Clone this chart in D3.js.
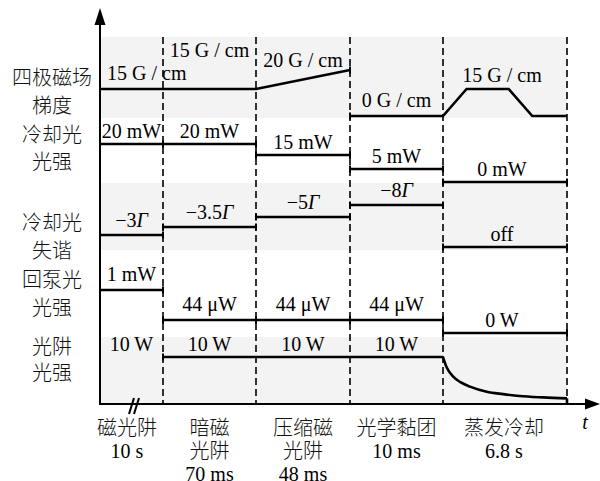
<!DOCTYPE html>
<html><head><meta charset="utf-8">
<script src="https://cdn.jsdelivr.net/npm/d3@7/dist/d3.min.js"></script>
<style>body{margin:0;background:#fff}</style>
</head><body><svg id="chart" width="600" height="481"></svg>
<script>
// Sequence phases (bottom axis)
const phaseLines = [["磁光阱"], ["暗磁", "光阱"], ["压缩磁", "光阱"], ["光学黏团"], ["蒸发冷却"]];
const phaseDurations = ["10 s", "70 ms", "48 ms", "10 ms", "6.8 s"];
// Control channels (left side)
const channelLines = [["四极磁场", "梯度"], ["冷却光", "光强"], ["冷却光", "失谐"], ["回泵光", "光强"], ["光阱", "光强"]];

// Quadrupole gradient (G/cm); time in phase units, null splits the trace
const gradientT = [0, 2, 3, null, 3, 4, 4.19, 4.53, 4.72, 5];
const gradientV = [15, 15, 20, null, 0, 0, 15, 15, 0, 0];
const gradientLabels = ["15 G / cm", "15 G / cm", "20 G / cm", "0 G / cm", "15 G / cm"];

// Cooling beam power (mW)
const coolPower = [20, 20, 15, 5, 0];
const coolLabels = ["20 mW", "20 mW", "15 mW", "5 mW", "0 mW"];

// Cooling beam detuning (units of Γ); null = beam off
const detuning = [-3, -3.5, -5, -8, null];
const detuningText = ["−3", "−3.5", "−5", "−8", "off"];

// Repump power (μW)
const repumpPower = [1000, 44, 44, 44, 0];
const repumpLabels = ["1 mW", "44 μW", "44 μW", "44 μW", "0 W"];

// Optical dipole trap power (W)
const trapPower = [10, 10, 10, 10];
const trapLabels = ["10 W", "10 W", "10 W", "10 W"];
const evapTime = [0, 0.2, 0.56, 0.93, 1.48, 2.4, 3.3, 4.2, 5.5, 6.8];   // s
const evapPower = [10, 7.8, 5.8, 4.7, 3.7, 2.6, 2.1, 1.7, 1.4, 1.2];    // W

// ---- layout ----
const svg = d3.select("#chart");
const serif = "'Liberation Serif','Times New Roman',serif";
const cjk = "'Noto Sans CJK SC','Noto Sans',sans-serif";
const FS = 20;
const axisY = 404, topY = 37;

const x = d3.scaleLinear().domain([0, 1, 2, 3, 4, 5]).range([100, 163, 256, 350, 443, 567]);
const xEvap = d3.scaleLinear().domain([0, 6.8]).range([x(4), x(5)]);
const mid = i => (x(i) + x(i + 1)) / 2;

const gradY = d3.scaleLinear().domain([0, 15, 20]).range([116, 89, 70]);
const coolY = d3.scaleLinear().domain([0, 5, 15, 20]).range([182, 169, 155, 144]);
const detY = d3.scaleLinear().domain([-8, -5, -3.5, -3]).range([205, 217, 227, 235]);
const detOffY = 247;
const repY = d3.scaleLinear().domain([0, 44, 1000]).range([333, 320, 290]);
const trapY = d3.scaleLinear().domain([0, 10]).range([axisY, 357]);

// shaded channel bands
const bands = [[37, 118], [183, 250], [337, axisY]];
svg.append("g").selectAll("rect").data(bands).join("rect")
  .attr("x", x(0)).attr("width", x(5) - x(0))
  .attr("y", d => d[0]).attr("height", d => d[1] - d[0])
  .attr("fill", "#f3f3f3");

// phase boundaries
svg.append("g").selectAll("line").data([1, 2, 3, 4, 5]).join("line")
  .attr("x1", d => x(d)).attr("x2", d => x(d))
  .attr("y1", topY).attr("y2", axisY)
  .attr("stroke", "#000").attr("stroke-width", 1.6).attr("stroke-dasharray", "7,4");

const traces = svg.append("g").attr("fill", "none").attr("stroke", "#000").attr("stroke-width", 2.6);
const CAP = 3.5;
function level(x0, x1, y, capL, capR) {
  traces.append("line").attr("x1", x0).attr("x2", x1).attr("y1", y).attr("y2", y);
  if (capL) traces.append("line").attr("x1", x0).attr("x2", x0).attr("y1", y - CAP).attr("y2", y + CAP).attr("stroke-width", 2);
  if (capR) traces.append("line").attr("x1", x1).attr("x2", x1).attr("y1", y - CAP).attr("y2", y + CAP).attr("stroke-width", 2);
}

// gradient trace
const gradPts = gradientT.map((t, i) => [t, gradientV[i]]);
traces.append("path")
  .attr("d", d3.line().defined(d => d[0] !== null).x(d => x(d[0])).y(d => gradY(d[1]))(gradPts))
  .attr("stroke-linejoin", "miter");
traces.append("line").attr("x1", x(3)).attr("x2", x(3)).attr("y1", gradY(20) - CAP).attr("y2", gradY(20) + CAP).attr("stroke-width", 2);
traces.append("line").attr("x1", x(3)).attr("x2", x(3)).attr("y1", gradY(0) - CAP).attr("y2", gradY(0) + CAP).attr("stroke-width", 2);

// step channels
coolPower.forEach((v, i) => level(x(i), x(i + 1), coolY(v), i > 0, true));
detuning.forEach((v, i) => level(x(i), x(i + 1), v === null ? detOffY : detY(v), i > 0, true));
repumpPower.forEach((v, i) => level(x(i), x(i + 1), repY(v), i > 0, true));
trapPower.forEach((v, i) => { if (i >= 1) level(x(i), x(i + 1), trapY(v), i === 1, false); });

// evaporation ramp of the dipole trap
traces.append("path")
  .attr("d", d3.line().curve(d3.curveMonotoneX).x((t, i) => xEvap(t)).y((t, i) => trapY(evapPower[i]))(evapTime));
traces.append("line").attr("x1", x(5)).attr("x2", x(5))
  .attr("y1", trapY(evapPower[evapPower.length - 1])).attr("y2", trapY(0));

// value labels
const lab = svg.append("g").attr("font-family", serif).attr("font-size", FS).attr("fill", "#000").attr("text-anchor", "middle");
const gradLift = [9, 32, 3, 9, 7];
gradientLabels.forEach((s, i) => {
  const vmax = i === 2 ? 20 : d3.max(gradPts.filter(p => p[0] !== null && p[0] >= i && p[0] <= i + 1), p => p[1]);
  const t = lab.append("text").attr("y", gradY(i === 3 ? 0 : vmax) - gradLift[i]).text(s);
  if (i === 0) t.attr("x", x(0) + 7).attr("text-anchor", "start");
  else t.attr("x", i === 4 ? mid(i) - 3 : mid(i));
});
coolLabels.forEach((s, i) => lab.append("text").attr("x", i === 4 ? mid(i) - 3 : mid(i)).attr("y", coolY(coolPower[i]) - 6).text(s));
detuningText.forEach((s, i) => {
  const v = detuning[i];
  const t = lab.append("text").attr("x", i === 4 ? mid(i) - 3 : mid(i)).attr("y", v === null ? detOffY - 6 : detY(v) - 8);
  if (v === null) { t.text(s); return; }
  t.append("tspan").text(s);
  t.append("tspan").attr("font-style", "italic").text("Γ");
});
repumpLabels.forEach((s, i) => lab.append("text").attr("x", i === 4 ? mid(i) - 3 : mid(i))
  .attr("y", repY(repumpPower[i]) - (i === 4 ? 6 : 9)).text(s));
trapLabels.forEach((s, i) => lab.append("text").attr("x", mid(i)).attr("y", trapY(trapPower[i]) - 6).text(s));

// axes
const ax = svg.append("g").attr("stroke", "#000").attr("stroke-width", 2);
ax.append("line").attr("x1", x(0)).attr("x2", x(0)).attr("y1", 20).attr("y2", axisY + 1);
ax.append("line").attr("x1", x(0) - 1).attr("x2", 590).attr("y1", axisY).attr("y2", axisY);
svg.append("path").attr("d", `M${x(0)},8 L${x(0) - 5.5},25 L${x(0) + 5.5},25 Z`).attr("fill", "#000");
svg.append("path").attr("d", `M600,${axisY} L585,${axisY - 5.5} L585,${axisY + 5.5} Z`).attr("fill", "#000");
// axis break marks in the first phase
ax.selectAll(".brk").data([0, 5]).join("line")
  .attr("x1", d => 129 + d).attr("x2", d => 134 + d)
  .attr("y1", axisY + 10).attr("y2", axisY - 6);

// channel names
const chanTop = [77, 134, 222, 279, 346];
const chanGap = [28, 27, 28, 28, 26];
const cl = svg.append("g").attr("font-family", cjk).attr("font-weight", 300).attr("font-size", FS).attr("fill", "#111").attr("text-anchor", "middle");
channelLines.forEach((lines, i) => lines.forEach((s, j) =>
  cl.append("text").attr("x", 52).attr("y", chanTop[i] + j * chanGap[i] + 7.5).text(s)));

// phase names and durations
const pl = svg.append("g").attr("text-anchor", "middle").attr("font-size", FS);
phaseLines.forEach((lines, i) => {
  const cx = i === 0 ? 127 : (i === 4 ? mid(i) - 1 : mid(i));
  lines.forEach((s, j) => pl.append("text").attr("font-family", cjk).attr("font-weight", 300).attr("fill", "#111")
    .attr("x", cx).attr("y", 435 + 23 * j).text(s));
  pl.append("text").attr("font-family", serif).attr("x", cx).attr("y", 458 + 23 * (lines.length - 1)).text(phaseDurations[i]);
});
pl.append("text").attr("font-family", serif).attr("font-style", "italic").attr("x", 585).attr("y", 429).text("t");
</script></body></html>
